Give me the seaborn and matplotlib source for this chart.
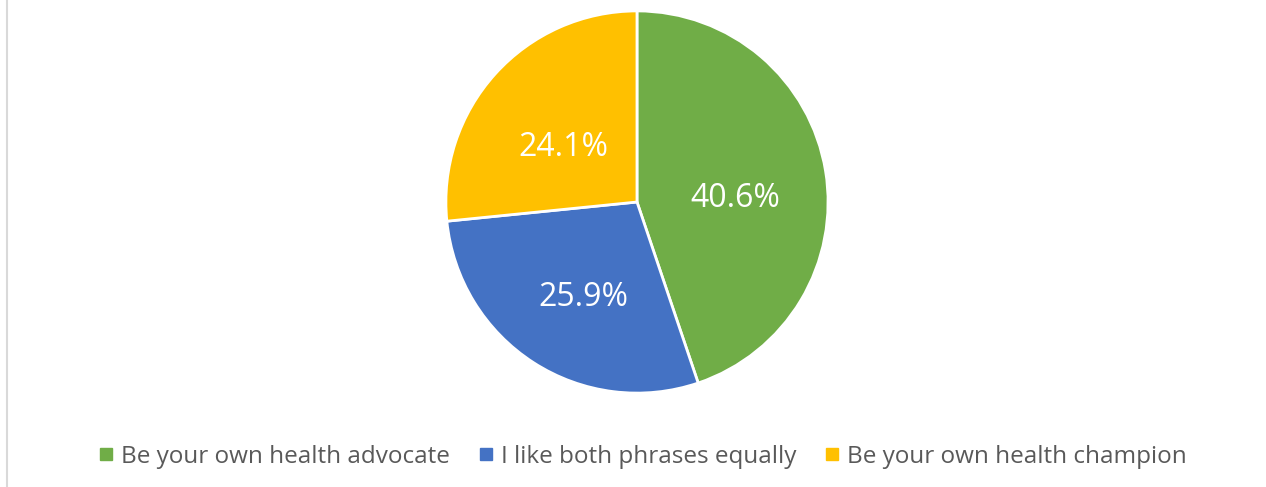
"""
Pie chart: preferred health phrase
"""
import seaborn as sns
import matplotlib.pyplot as plt
from matplotlib.lines import Line2D

phrases = ['Be your own health advocate', 'I like both phrases equally', 'Be your own health champion']
shares = [40.6, 25.9, 24.1]
colors = ['#70AD47', '#4472C4', '#FFC000']

sns.set_theme(style='white')
plt.rcParams['font.family'] = ['Open Sans', 'DejaVu Sans']

fig = plt.figure(figsize=(12.66, 4.87), dpi=100)
ax = fig.add_axes([0.3507, 0.1889, 0.3049, 0.7926])

labels_iter = iter(shares)
wedges, texts, autotexts = ax.pie(
    shares, colors=colors, startangle=90, counterclock=False,
    autopct=lambda p: f'{next(labels_iter):.1f}%', pctdistance=0.52,
    wedgeprops=dict(edgecolor='white', linewidth=2),
    textprops=dict(color='white', fontsize=23))
# excel puts the labels a bit lower than matplotlib does
for t in autotexts:
    x, y = t.get_position()
    t.set_position((x, y - 0.065))
ax.set_aspect('equal')
ax.set_xlim(-1.01, 1.01)
ax.set_ylim(-1.01, 1.01)
ax.axis('off')

# left frame line
fig.add_artist(Line2D([0.0055, 0.0055], [0, 1], color='#d9d9d9', linewidth=1.5))

handles = [Line2D([], [], marker='s', linestyle='', markersize=8,
                  markerfacecolor=c, markeredgecolor=c) for c in colors]
leg = fig.legend(handles, phrases, loc='center', bbox_to_anchor=(0.508, 0.062),
                 ncol=3, frameon=False, fontsize=17.5, handlelength=0.55,
                 handletextpad=0.35, columnspacing=1.2)
for t in leg.get_texts():
    t.set_color('#595959')

fig.savefig('out.png', dpi=100)
